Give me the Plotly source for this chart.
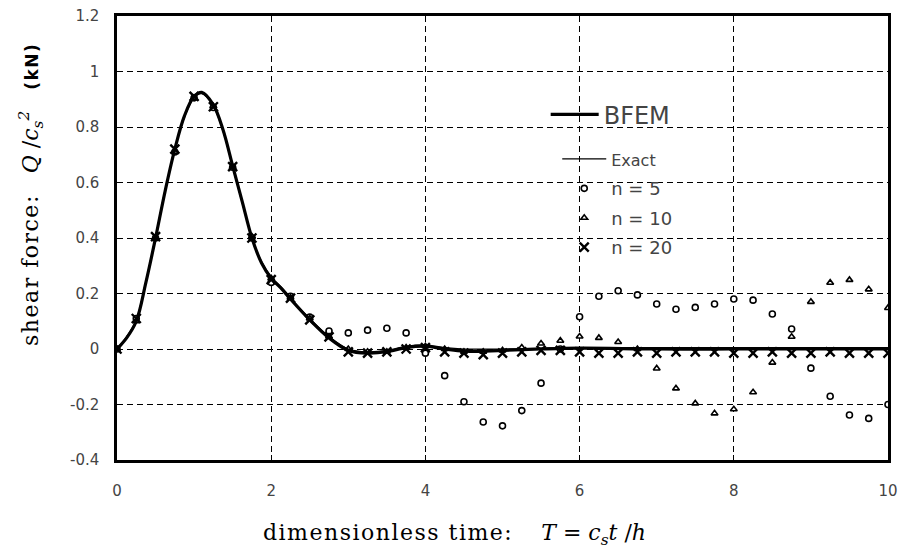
import plotly.graph_objects as go

# ---- data ----
T_curve = [0, 0.125, 0.25, 0.375, 0.5, 0.625, 0.75, 0.875, 1.0, 1.1, 1.25, 1.375, 1.5, 1.625,
           1.75, 1.875, 2.0, 2.125, 2.25, 2.5, 2.75, 3.0, 3.25, 3.5, 3.75, 4.0, 4.25, 4.5,
           5.0, 5.5, 6.0, 7.0, 8.0, 9.0, 10.0]
bfem = [0, 0.04, 0.10, 0.24, 0.40, 0.57, 0.72, 0.84, 0.91, 0.925, 0.88, 0.79, 0.66, 0.53,
        0.40, 0.31, 0.255, 0.22, 0.18, 0.105, 0.04, -0.005, -0.015, -0.01, 0.005, 0.01, 0.0, -0.008,
        -0.005, 0.0, 0.003, 0.0, 0.0, 0.0, 0.0]
exact = [0, 0.045, 0.105, 0.245, 0.405, 0.575, 0.72, 0.835, 0.905, 0.92, 0.875, 0.785, 0.655, 0.525,
         0.40, 0.315, 0.26, 0.225, 0.185, 0.11, 0.045, 0.0, -0.01, -0.005, 0.01, 0.015, 0.005, 0.0,
         0.0, 0.003, 0.005, 0.005, 0.005, 0.005, 0.005]

T_pts = [0, 0.25, 0.5, 0.75, 1.0, 1.25, 1.5, 1.75, 2.0, 2.25, 2.5, 2.75, 3.0, 3.25, 3.5, 3.75,
         4.0, 4.25, 4.5, 4.75, 5.0, 5.25, 5.5, 5.75, 6.0, 6.25, 6.5, 6.75, 7.0, 7.25, 7.5, 7.75,
         8.0, 8.25, 8.5, 8.75, 9.0, 9.25, 9.5, 9.75, 10.0]
n5 = [0, 0.11, 0.40, 0.71, 0.905, 0.87, 0.655, 0.40, 0.24, 0.19, 0.115, 0.065, 0.058, 0.068, 0.075, 0.058,
      -0.015, -0.096, -0.19, -0.263, -0.277, -0.222, -0.123, 0.0, 0.116, 0.19, 0.21, 0.195, 0.162, 0.143,
      0.15, 0.162, 0.18, 0.176, 0.126, 0.072, -0.069, -0.17, -0.238, -0.25, -0.2]
n10 = [0, 0.10, 0.40, 0.71, 0.905, 0.875, 0.655, 0.405, 0.255, 0.185, 0.11, 0.045, 0.0, -0.01, -0.01, 0.005,
       0.01, 0.0, -0.01, -0.01, -0.005, 0.005, 0.02, 0.03, 0.045, 0.04, 0.025, 0.0, -0.07, -0.142,
       -0.196, -0.232, -0.217, -0.156, -0.049, 0.044, 0.17, 0.239, 0.249, 0.215, 0.148]
n20 = [0, 0.11, 0.405, 0.72, 0.91, 0.873, 0.657, 0.40, 0.25, 0.183, 0.105, 0.044, -0.01, -0.015, -0.01, 0.0,
       0.005, -0.01, -0.015, -0.02, -0.015, -0.01, -0.005, -0.005, -0.01, -0.015, -0.015, -0.01, -0.015, -0.01,
       -0.01, -0.01, -0.015, -0.015, -0.01, -0.015, -0.015, -0.01, -0.015, -0.015, -0.015]

y_ticks = [-0.4, -0.2, 0, 0.2, 0.4, 0.6, 0.8, 1.0, 1.2]
y_ticktext = ["-0.4", "-0.2", "0", "0.2", "0.4", "0.6", "0.8", "1", "1.2"]
x_ticks = [0, 2, 4, 6, 8, 10]
x_ticktext = ["0", "2", "4", "6", "8", "10"]

sans = "DejaVu Sans"
serif = "DejaVu Serif"
gray = "#444444"

fig = go.Figure()
fig.add_trace(go.Scatter(x=T_pts, y=n5, mode="markers", name="n = 5",
                         legend="legend2", legendgroup="g3", legendrank=3,
                         marker=dict(symbol="circle", size=6, color="white", line=dict(color="black", width=1.6))))
fig.add_trace(go.Scatter(x=T_pts, y=n10, mode="markers", name="n = 10",
                         legend="legend2", legendgroup="g4", legendrank=4,
                         marker=dict(symbol="triangle-up", size=6, color="white", line=dict(color="black", width=1.6))))
fig.add_trace(go.Scatter(x=T_curve, y=exact, mode="lines", name='<span style="font-size:16px">Exact</span>',
                         legend="legend2", legendgroup="g2", legendrank=2,
                         line=dict(color="black", width=1.2, shape="spline")))
fig.add_trace(go.Scatter(x=T_curve, y=bfem, mode="lines", name="BFEM",
                         legend="legend", legendgroup="g1", legendrank=1,
                         line=dict(color="black", width=3.2, shape="spline")))
fig.add_trace(go.Scatter(x=T_pts, y=n20, mode="markers", name="n = 20",
                         legend="legend2", legendgroup="g5", legendrank=5,
                         marker=dict(symbol="x-thin", size=9, color="black", line=dict(color="black", width=2.4))))

fig.update_layout(
    width=905, height=558,
    margin=dict(l=117, r=17, t=16, b=98, autoexpand=False),
    paper_bgcolor="white", plot_bgcolor="white",
    font=dict(family=sans, color=gray, size=15),
    showlegend=True,
    legend=dict(x=0.556, y=0.828, xanchor="left", yanchor="top", bgcolor="rgba(0,0,0,0)",
                font=dict(family=sans, size=24, color=gray), itemwidth=48),
    legend2=dict(x=0.571, y=0.719, xanchor="left", yanchor="top", bgcolor="rgba(0,0,0,0)",
                 font=dict(family=sans, size=18, color=gray), traceorder="grouped",
                 tracegroupgap=3, itemwidth=44),
    xaxis=dict(range=[0, 10], tickvals=x_ticks, ticktext=x_ticktext, automargin=False,
               showline=True, linewidth=2.5, linecolor="black", mirror=True,
               ticks="inside", ticklen=5, tickcolor="black", tickwidth=1,
               showgrid=True, gridcolor="black", gridwidth=1, griddash="6px,4px",
               zeroline=False, ticklabelstandoff=15,
               tickfont=dict(family=sans, size=15, color=gray)),
    yaxis=dict(range=[-0.4, 1.2], tickvals=y_ticks, ticktext=y_ticktext, automargin=False,
               showline=True, linewidth=2.5, linecolor="black", mirror=True,
               ticks="inside", ticklen=5, tickcolor="black", tickwidth=1,
               showgrid=True, gridcolor="black", gridwidth=1, griddash="6px,4px",
               zeroline=False, ticklabelstandoff=12,
               tickfont=dict(family=sans, size=15, color=gray)),
    annotations=[
        dict(text='<span style="letter-spacing:1.5px">shear force:</span>&nbsp;&nbsp; <i>Q</i> /<i>c<sub>s</sub><sup>2</sup></i>&nbsp;&nbsp; '
                  '<span style="font-family:DejaVu Sans;font-weight:bold;font-size:17px;letter-spacing:1.5px">(kN)</span>',
             textangle=-90, xref="paper", yref="paper", x=-0.1115, y=0.597,
             xanchor="center", yanchor="middle", showarrow=False,
             font=dict(family=serif, size=22, color="black")),
        dict(text='<span style="letter-spacing:1.5px">dimensionless time:</span>&nbsp;&nbsp;&nbsp; <i>T</i> = <i>c<sub>s</sub>t</i> /<i>h</i>',
             xref="paper", yref="paper", x=0.438, y=-0.1667,
             xanchor="center", yanchor="middle", showarrow=False,
             font=dict(family=serif, size=22, color="black")),
    ],
)

fig.write_html("out.html", config={"displayModeBar": False},
               post_script="document.body.style.margin='0';")
